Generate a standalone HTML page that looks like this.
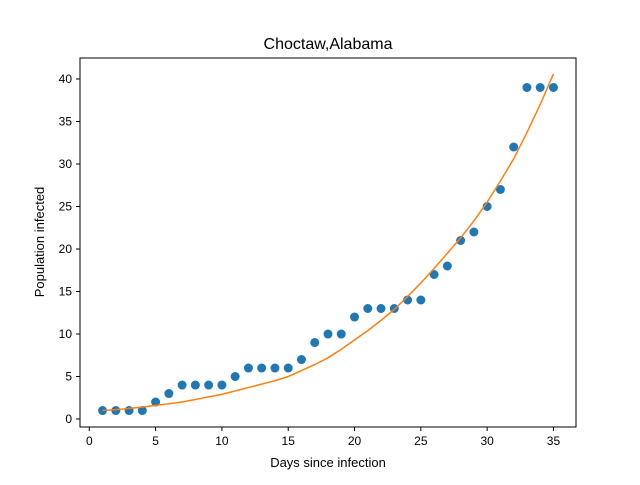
<!DOCTYPE html>
<html><head><meta charset="utf-8"><style>
body{margin:0;background:#fff}
svg text{font-family:"Liberation Sans","DejaVu Sans",sans-serif;fill:#000}
</style></head><body>
<svg id="chart" width="640" height="480">
<rect x="0" y="0" width="640" height="480" fill="#fff"/>
<text x="328" y="49" font-size="16" text-anchor="middle">Choctaw,Alabama</text>
<g id="plot"></g>
<rect x="80" y="58" width="496" height="369" fill="none" stroke="#000" stroke-width="1"/>
<text x="328" y="467" font-size="13" text-anchor="middle">Days since infection</text>
<text transform="translate(44,242) rotate(-90)" font-size="13" text-anchor="middle">Population infected</text>
</svg>
<script>
const days = [1,2,3,4,5,6,7,8,9,10,11,12,13,14,15,16,17,18,19,20,21,22,23,24,25,26,27,28,29,30,31,32,33,34,35];
const infected = [1,1,1,1,2,3,4,4,4,4,5,6,6,6,6,7,9,10,10,12,13,13,13,14,14,17,18,21,22,25,27,32,39,39,39];
const fitDays = [1,1.5,2,2.5,3,3.5,4,4.5,5,5.5,6,6.5,7,7.5,8,8.5,9,9.5,10,10.5,11,11.5,12,12.5,13,13.5,14,14.5,15,15.5,16,16.5,17,17.5,18,18.5,19,19.5,20,20.5,21,21.5,22,22.5,23,23.5,24,24.5,25,25.5,26,26.5,27,27.5,28,28.5,29,29.5,30,30.5,31,31.5,32,32.5,33,33.5,34,34.5,35];
const fitValues = [1.0,1.05,1.1,1.17,1.25,1.32,1.4,1.5,1.6,1.7,1.8,1.9,2.0,2.15,2.3,2.45,2.6,2.75,2.9,3.1,3.3,3.5,3.7,3.9,4.1,4.3,4.5,4.75,5.0,5.35,5.7,6.05,6.4,6.8,7.2,7.7,8.2,8.75,9.3,9.85,10.4,11.0,11.6,12.25,12.9,13.65,14.4,15.2,16.0,16.85,17.7,18.6,19.5,20.4,21.3,22.3,23.3,24.4,25.5,26.75,28.0,29.3,30.6,32.15,33.7,35.35,37.0,38.8,40.6];
const xTicks = [0,5,10,15,20,25,30,35];
const yTicks = [0,5,10,15,20,25,30,35,40];

const NS = "http://www.w3.org/2000/svg";
const X0 = 80, X1 = 576, Y0 = 427, Y1 = 58;
const xmin = -0.7, xmax = 36.7, ymin = -0.94, ymax = 42.47;
const xs = v => X0 + (v - xmin) / (xmax - xmin) * (X1 - X0);
const ys = v => Y0 - (v - ymin) / (ymax - ymin) * (Y0 - Y1);
const plot = document.getElementById("plot");
function mk(tag, attrs){const e=document.createElementNS(NS,tag);for(const k in attrs)e.setAttribute(k,attrs[k]);plot.appendChild(e);return e;}

xTicks.forEach(t=>{
  const l=mk("line",{x1:xs(t),x2:xs(t),y1:Y0,y2:Y0+4,stroke:"#000"});
  
  
  const tx=mk("text",{x:xs(t),y:Y0+18,"font-size":12,"text-anchor":"middle"});
  tx.textContent=t;
  
  
});
yTicks.forEach(t=>{
  const l=mk("line",{x1:X0-4,x2:X0,y1:ys(t),y2:ys(t),stroke:"#000"});
  
  
  const tx=mk("text",{x:X0-8,y:ys(t)+4,"font-size":12,"text-anchor":"end"});
  tx.textContent=t;
  
  
});
days.forEach((d,i)=>{
  const c=mk("circle",{cx:xs(d),cy:ys(infected[i]),r:4.5,fill:"#1f77b4"});
  
  
});
const path=mk("polyline",{points:fitDays.map((d,i)=>xs(d)+","+ys(fitValues[i])).join(" "),fill:"none",stroke:"#ff7f0e","stroke-width":1.5});


</script>
</body></html>
